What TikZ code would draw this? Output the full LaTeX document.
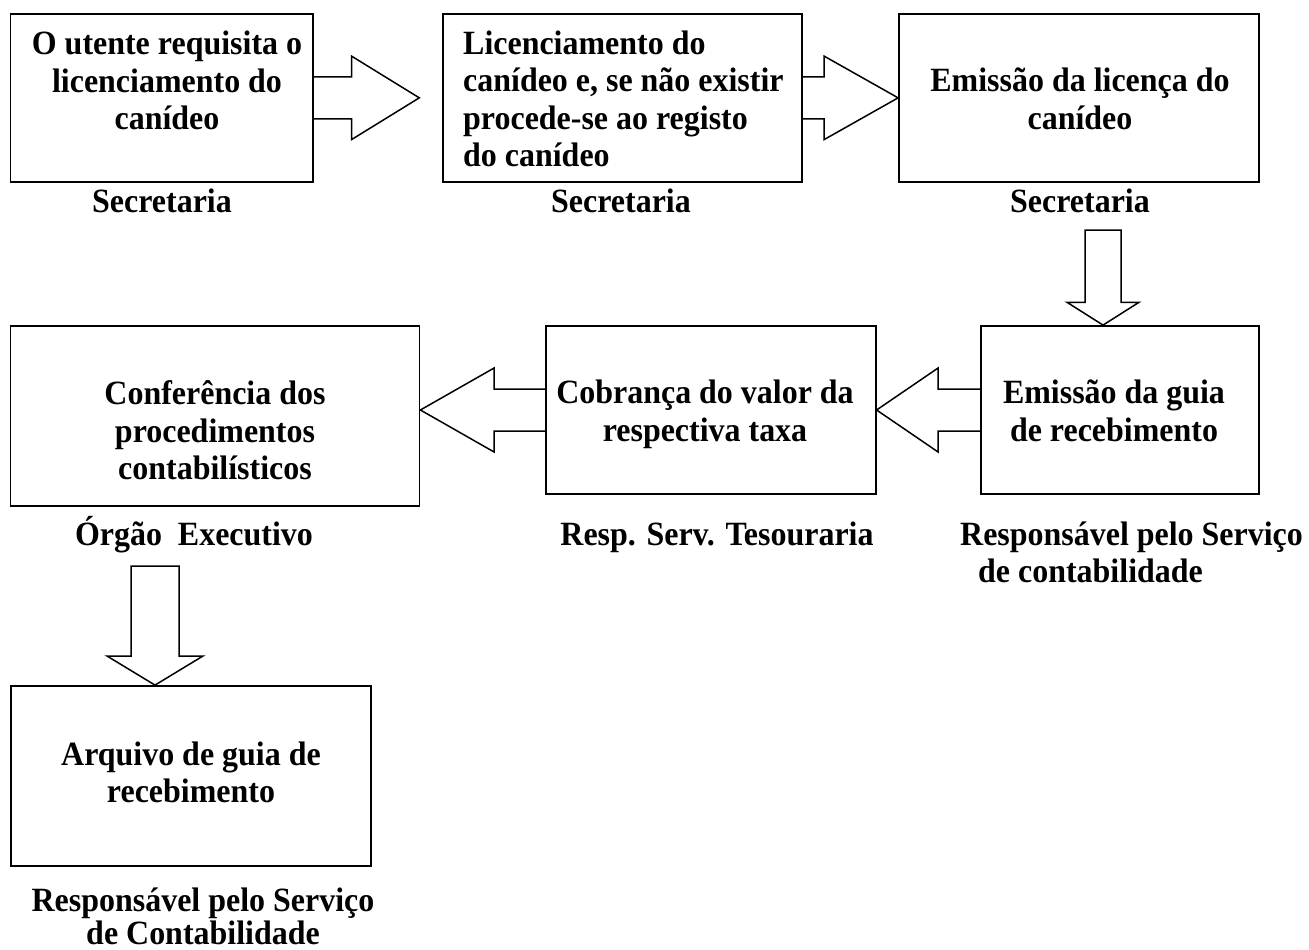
\documentclass[tikz,border=0pt]{standalone}
\usepackage{fontspec}
\setmainfont{Liberation Serif}[FakeStretch=0.94]
\usetikzlibrary{calc}
\begin{document}
\begin{tikzpicture}[x=1pt,y=-1pt,
  box/.style={draw,line width=1.8pt,rectangle,inner sep=0pt},
  arr/.style={draw,line width=1.5pt,line join=miter},
  txt/.style={inner sep=0pt,font=\fontsize{34}{37.5}\selectfont\bfseries},
  lbl/.style={inner sep=0pt,font=\fontsize{34}{37}\selectfont\bfseries}]
\useasboundingbox (0,0) rectangle (1309,950);
% boxes
\node[box,minimum width=302.2pt,minimum height=167.7pt] (b1) at (161.6,97.85) {};
\node[box,minimum width=358.4pt,minimum height=167.7pt] (b2) at (622.5,97.85) {};
\node[box,minimum width=360pt,minimum height=167.7pt] (b3) at (1079,97.85) {};
\node[box,minimum width=409pt,minimum height=180pt] (b4) at (215,416) {};
\node[box,minimum width=329.7pt,minimum height=168pt] (b5) at (710.85,410) {};
\node[box,minimum width=278pt,minimum height=168pt] (b6) at (1120,410) {};
\node[box,minimum width=360pt,minimum height=180pt] (b7) at (191,776) {};
% texts
\node[txt,align=center] (t1) at (167,80.5) {O utente requisita o\\licenciamento do\\canídeo};
\node[txt,align=left,anchor=west] (t2) at (463,99) {Licenciamento do\\canídeo e, se não existir\\procede-se ao registo\\do canídeo};
\node[txt,align=center] (t3) at (1080,99) {Emissão da licença do\\canídeo};
\node[txt,align=center] (t4) at (215,430.5) {Conferência dos\\procedimentos\\contabilísticos};
\node[txt,align=center] (t5) at (705,414.5) {Cobrança do valor da\\respectiva taxa};
\node[txt,align=center] (t6) at (1114,411) {Emissão da guia\\de recebimento};
\node[txt,align=center] (t7) at (191,772.5) {Arquivo de guia de\\recebimento};
% labels
\node[lbl,anchor=base] (l1) at (162,212) {Secretaria};
\node[lbl,anchor=base] (l2) at (621,212) {Secretaria};
\node[lbl,anchor=base] (l3) at (1080,212) {Secretaria};
\node[lbl,anchor=base] (l4) at (194,545) {Órgão\ \ Executivo};
\node[lbl,anchor=base] (l5) at (717,545) {Resp. Serv. Tesouraria};
\node[lbl,align=left,anchor=west] (l6) at (960,552.5) {Responsável pelo Serviço\\\hspace*{18pt}de contabilidade};
\node[lbl,align=center,font=\fontsize{34}{33}\selectfont\bfseries] (l7) at (203,916) {Responsável pelo Serviço\\de Contabilidade};
% tips and free ends
\coordinate (tip1) at (419.3,97.85);
\coordinate (d1) at (1103,230);
\coordinate (d2) at (155,566);
% arrow b1 -> b2
\draw[arr] ($(b1.east)+(0,-21)$) -- ++(38,0) -- ++(0,-20.7) -- (tip1)
  -- ($(b1.east)+(38,41.7)$) -- ++(0,-20.7) -- ($(b1.east)+(0,21)$);
% arrow b2 -> b3
\draw[arr] ($(b2.east)+(0,-21)$) -- ++(21.6,0) -- ++(0,-20.7) -- (b3.west)
  -- ($(b2.east)+(21.6,41.7)$) -- ++(0,-20.7) -- ($(b2.east)+(0,21)$);
% arrow b3 -> b6 (down)
\draw[arr] ($(d1)+(-18,0)$) -- ++(0,72.3) -- ++(-18,0) -- (d1 |- b6.north)
  -- ($(d1)+(36,72.3)$) -- ++(-18,0) -- ($(d1)+(18,0)$) -- cycle;
% arrow b6 -> b5
\draw[arr] ($(b6.west)+(0,-21)$) -- ++(-42,0) -- ++(0,-21) -- (b5.east)
  -- ($(b6.west)+(-42,42)$) -- ++(0,-21) -- ($(b6.west)+(0,21)$);
% arrow b5 -> b4
\draw[arr] ($(b5.west)+(0,-21)$) -- ++(-51,0) -- ++(0,-21) -- (b4.east |- b5.west)
  -- ($(b5.west)+(-51,42)$) -- ++(0,-21) -- ($(b5.west)+(0,21)$);
% arrow b4 -> b7 (down)
\draw[arr] ($(d2)+(-24,0)$) -- ++(0,90) -- ++(-24,0) -- (d2 |- b7.north)
  -- ($(d2)+(48,90)$) -- ++(-24,0) -- ($(d2)+(24,0)$) -- cycle;
\end{tikzpicture}
\end{document}
